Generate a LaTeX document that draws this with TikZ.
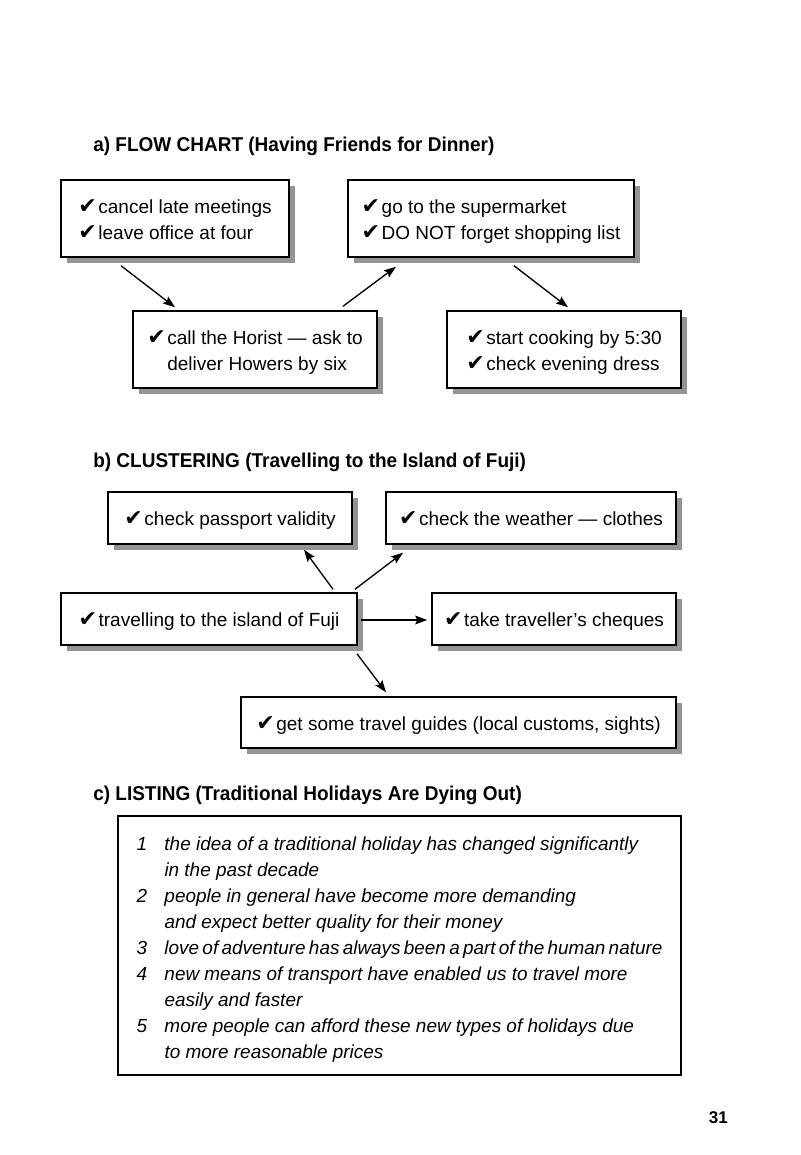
\documentclass[tikz,border=0pt]{standalone}
\usepackage{fontspec}
\setmainfont{Liberation Sans}
\newfontfamily\symfont{DejaVu Sans}
\newfontfamily\hdfont[FakeStretch=0.95]{Liberation Sans Bold}
\usetikzlibrary{arrows.meta,shadows,calc}
\newcommand{\chk}{{\symfont\fontsize{16.5pt}{19.5pt}\selectfont ✔}\hspace{1.2pt}}
\newcommand{\topst}{\rule{0pt}{16.7pt}}
\newcommand{\botst}{\rule[-4pt]{0pt}{4pt}}
\newcommand{\boxfont}{\fontsize{14.25pt}{19.5pt}\selectfont}
\newcommand{\listfont}{\itshape\fontsize{14.2pt}{19.5pt}\selectfont}
\tikzset{
  bx/.style={draw, line width=1.1pt, fill=white, inner sep=0pt, align=left, font=\boxfont,
    drop shadow={shadow xshift=4.5pt, shadow yshift=-4.5pt, fill=black!42, opacity=1}},
  bxa/.style={bx, minimum height=57.75pt},
  bxb/.style={bx, minimum height=39pt, text height=11.6pt, text depth=0pt},
  arr/.style={line width=1pt, -{Stealth[length=9pt,width=6.5pt,inset=1.5pt]}},
  hd/.style={anchor=base west, inner sep=0pt, font=\hdfont\fontsize{15pt}{18pt}\selectfont},
}
\begin{document}
\begin{tikzpicture}[x=0.75pt,y=-0.75pt]
\fill[white] (0,0) rectangle (800,1155);
\useasboundingbox (0,0) rectangle (800,1155);

% headings
\node[hd] (ha) at (93,152) {a) FLOW CHART (Having Friends for Dinner)};
\node[hd] (hb) at (93,467) {b) CLUSTERING (Travelling to the Island of Fuji)};
\node[hd] (hc) at (93,800) {c) LISTING (Traditional Holidays Are Dying Out)};

% flow chart
\node[bxa, minimum width=171pt] (A1) at (175,218.5)
  {\topst\chk cancel late meetings\\\chk leave office at four\botst};
\node[bxa, minimum width=214.5pt] (A2) at (491,218.5)
  {\topst\chk go to the supermarket\\\chk DO NOT forget shopping list\botst};
\node[bxa, minimum width=183pt] (A3) at (255,349.5)
  {\topst\chk call the Horist — ask to\\\phantom{\chk}deliver Howers by six\botst};
\node[bxa, minimum width=175.5pt] (A4) at (564,349.5)
  {\topst\chk start cooking by 5:30\\\chk check evening dress\botst};

\draw[arr] ($(A1.south)+(-54,8)$) -- ($(A3.north)+(-80,-3)$);
\draw[arr] ($(A3.north)+(88,-4)$) -- ($(A2.south)+(-95,9)$);
\draw[arr] ($(A2.south)+(23,8)$) -- ($(A4.north)+(4,-3)$);

% clustering
\node[bxb, minimum width=183pt] (B1) at (230,518) {\chk check passport validity};
\node[bxb, minimum width=217.5pt] (B2) at (531,518) {\chk check the weather — clothes};
\node[bxb, minimum width=222pt] (B3) at (209,619) {\chk travelling to the island of Fuji};
\node[bxb, minimum width=183pt] (B4) at (554,619) {\chk take traveller’s cheques};
\node[bxb, minimum width=326.25pt, minimum height=38.25pt] (B5) at (458.5,722.5)
  {\chk get some travel guides (local customs, sights)};

\draw[arr] ($(B3.north)+(124,-3)$) -- ($(B1.south)+(74,5)$);
\draw[arr] ($(B3.north)+(146,-3)$) -- ($(B2.south)+(-128,8)$);
\draw[arr] ($(B3.east)+(3,1)$) -- ($(B4.west)+(-4,1)$);
\draw[arr] ($(B3.south)+(148,8)$) -- ($(B5.north)+(-72.5,-4)$);

% listing
\node[draw, line width=1.1pt, fill=white, inner sep=0pt,
      minimum width=422.25pt, minimum height=194.25pt] (L) at (399.5,945.5) {};
\node[font=\listfont, inner sep=0pt] (Lt) at (399.5,949)
  {\begin{tabular}{@{}p{21pt}@{}l@{}}
   1 & the idea of a traditional holiday has changed significantly\\
     & in the past decade\\
   2 & people in general have become more demanding\\
     & and expect better quality for their money\\
   3 & \hbox to 373.5pt{\spaceskip=0.1em plus 1fill\relax love of adventure has always been a part of the human nature}\\
   4 & new means of transport have enabled us to travel more\\
     & easily and faster\\
   5 & more people can afford these new types of holidays due\\
     & to more reasonable prices
   \end{tabular}};

% page number
\node[anchor=base east, inner sep=0pt, font=\bfseries\fontsize{12.75pt}{15pt}\selectfont] (pg) at (728,1123) {31};
\end{tikzpicture}
\end{document}
